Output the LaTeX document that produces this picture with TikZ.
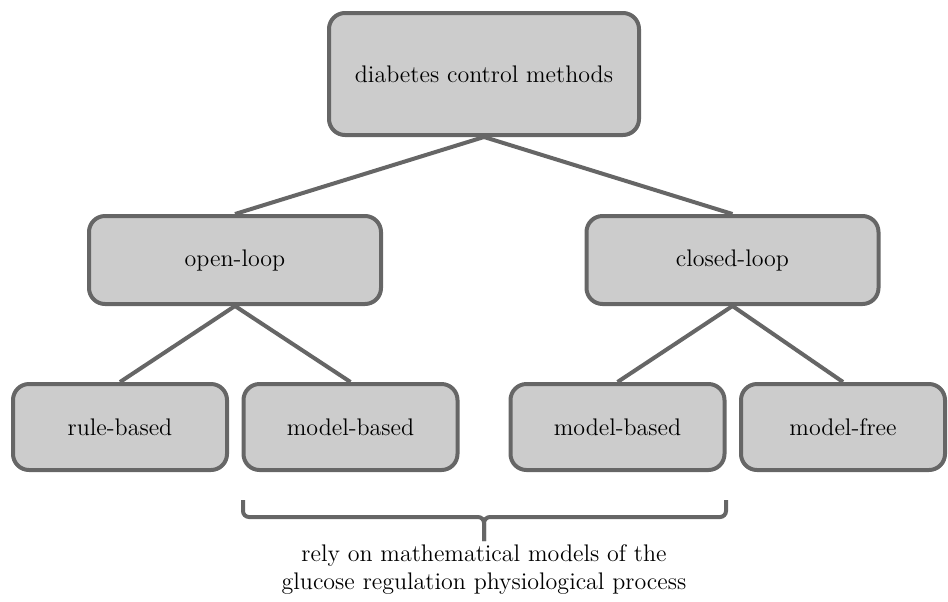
\documentclass[tikz,border=0pt]{standalone}
\usetikzlibrary{backgrounds}
\definecolor{boxfill}{RGB}{204,204,204}
\definecolor{boxline}{RGB}{102,102,102}
\tikzset{
  treebox/.style={draw=boxline, fill=boxfill, line width=2pt, rounded corners=8pt,
    align=center, font=\fontsize{12}{14.5}\selectfont, inner sep=0pt},
  treeedge/.style={draw=boxline, line width=2pt},
  bracestyle/.style={draw=boxline, line width=2pt, rounded corners=3pt},
}
\begin{document}
\begin{tikzpicture}[x=0.5pt,y=-0.5pt]
\useasboundingbox (0,0) rectangle (948,601);
\node[treebox, minimum width=155pt, minimum height=61pt] (root) at (484,74) {diabetes control methods};
\node[treebox, minimum width=146pt, minimum height=44pt] (open) at (235,260) {open-loop};
\node[treebox, minimum width=146pt, minimum height=44pt] (closed) at (732.5,260) {closed-loop};
\node[treebox, minimum width=107pt, minimum height=43pt] (rule) at (120,427) {rule-based};
\node[treebox, minimum width=107pt, minimum height=43pt] (model1) at (350.5,427) {model-based};
\node[treebox, minimum width=107pt, minimum height=43pt] (model2) at (617.5,427) {model-based};
\node[treebox, minimum width=102pt, minimum height=43pt] (free) at (843,427) {model-free};
\begin{scope}[on background layer]
\draw[treeedge] (root.south) -- (open.north);
\draw[treeedge] (root.south) -- (closed.north);
\draw[treeedge] (open.south) -- (rule.north);
\draw[treeedge] (open.south) -- (model1.north);
\draw[treeedge] (closed.south) -- (model2.north);
\draw[treeedge] (closed.south) -- (free.north);
\end{scope}
\coordinate (bl) at (243,500);
\coordinate (br) at (726,500);
\coordinate (bmid) at (484,517);
\coordinate (btip) at (484,541);
\draw[bracestyle] (bl) |- (bmid) -- (btip);
\draw[bracestyle] (br) |- (bmid) -- (btip);
\node[align=center, font=\fontsize{12}{14}\selectfont, inner sep=0pt] (note) at (484,569)
  {rely on mathematical models of the\\glucose regulation physiological process};
\end{tikzpicture}
\end{document}
